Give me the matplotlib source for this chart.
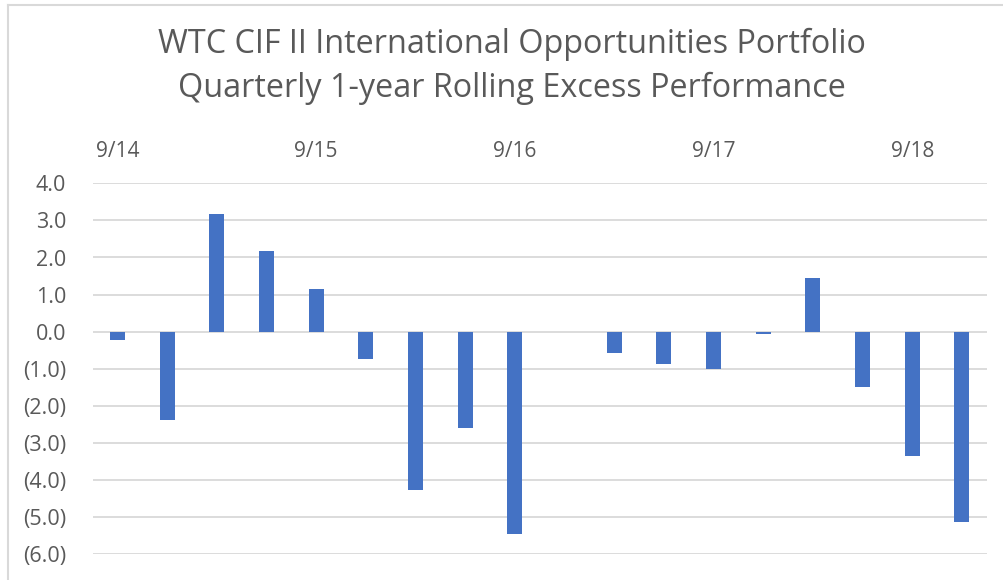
import matplotlib
matplotlib.use("Agg")
import matplotlib.pyplot as plt
from matplotlib.lines import Line2D

quarters = ["9/14", "12/14", "3/15", "6/15", "9/15", "12/15", "3/16", "6/16", "9/16",
            "12/16", "3/17", "6/17", "9/17", "12/17", "3/18", "6/18", "9/18", "12/18"]
excess = [-0.23, -2.39, 3.18, 2.17, 1.14, -0.73, -4.26, -2.59, -5.44,
          0.0, -0.58, -0.86, -1.01, -0.07, 1.46, -1.49, -3.35, -5.12]
yticks = [4, 3, 2, 1, 0, -1, -2, -3, -4, -5, -6]
title_lines = ["WTC CIF II International Opportunities Portfolio",
               "Quarterly 1-year Rolling Excess Performance"]

plt.rcParams['font.family'] = ['Open Sans', 'DejaVu Sans']
W, H = 1004, 580
fig = plt.figure(figsize=(W / 100, H / 100), dpi=100)

# frame lines (top and left) like the reference screenshot
fig.add_artist(Line2D([8 / W, 8 / W], [0, 1 - 5 / H], transform=fig.transFigure,
                      color="#d9d9d9", lw=1.5))
fig.add_artist(Line2D([8 / W, 1], [1 - 5 / H, 1 - 5 / H], transform=fig.transFigure,
                      color="#d9d9d9", lw=1.5))

left, right = 92.7 / W, 986.7 / W
top, bottom = 1 - 183.3 / H, 1 - 554.3 / H
ax = fig.add_axes([left, bottom, right - left, top - bottom])

x = list(range(len(quarters)))
ax.bar(x, excess, width=0.30, color="#4472C4", zorder=3)

ax.set_xlim(-0.5, len(quarters) - 0.5)
ax.set_ylim(-6, 4)
ax.set_yticks(yticks)
ax.set_yticklabels([f"{v:.1f}" if v >= 0 else f"({abs(v):.1f})" for v in yticks])
ax.yaxis.grid(True, color="#d9d9d9", lw=1.3, zorder=0)
ax.set_axisbelow(True)

shown = list(range(0, len(quarters), 4))
ax.set_xticks(shown)
ax.set_xticklabels([quarters[i] for i in shown])
ax.xaxis.tick_top()

for s in ax.spines.values():
    s.set_visible(False)
ax.tick_params(axis="y", length=0, pad=19, labelsize=15.5, labelcolor="#595959")
ax.tick_params(axis="x", length=0, pad=15, labelsize=15, labelcolor="#595959")

fig.text(0.51, 1 - 53 / H, title_lines[0], ha="center", va="baseline",
         fontsize=23.3, color="#595959")
fig.text(0.51, 1 - 97 / H, title_lines[1], ha="center", va="baseline",
         fontsize=23.3, color="#595959")

fig.savefig("out.png", dpi=100, facecolor="white")
